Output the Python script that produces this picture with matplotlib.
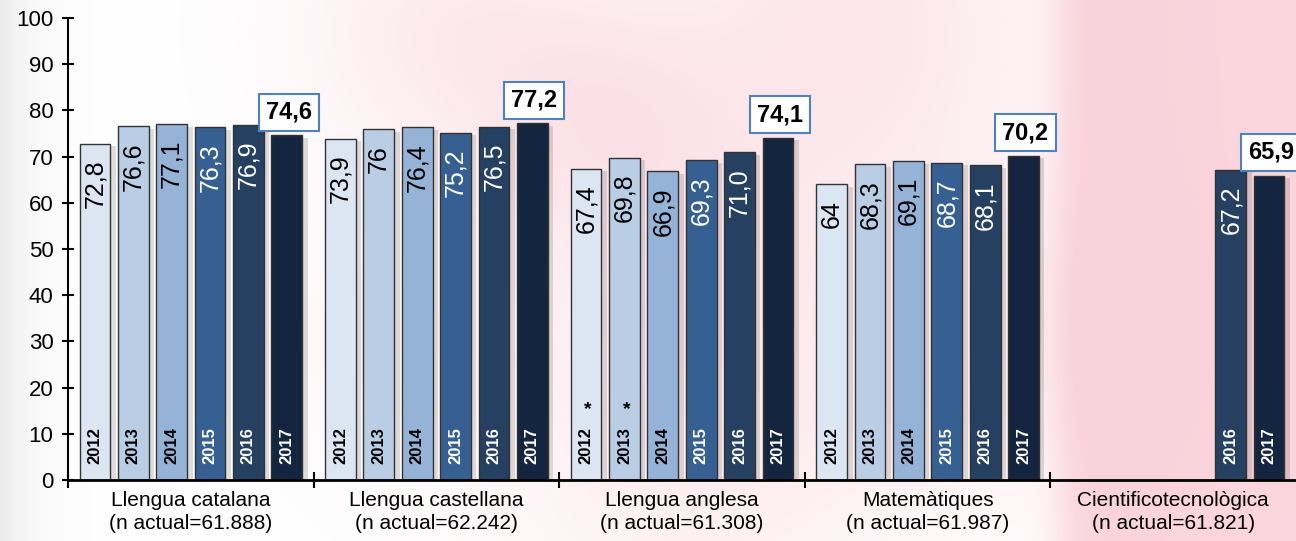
import matplotlib
matplotlib.use("Agg")
import matplotlib.pyplot as plt
import matplotlib.patheffects as pe
import numpy as np

plt.rcParams['font.family'] = ['Liberation Sans', 'DejaVu Sans']

# data
subjects = ["Llengua catalana\n(n actual=61.888)",
            "Llengua castellana\n(n actual=62.242)",
            "Llengua anglesa\n(n actual=61.308)",
            "Matemàtiques\n(n actual=61.987)",
            "Cientificotecnològica\n(n actual=61.821)"]
years = ["2012", "2013", "2014", "2015", "2016", "2017"]
catalana = [72.8, 76.6, 77.1, 76.3, 76.9, 74.6]
castellana = [73.9, 76.0, 76.4, 75.2, 76.5, 77.2]
anglesa = [67.4, 69.8, 66.9, 69.3, 71.0, 74.1]
matematiques = [64.0, 68.3, 69.1, 68.7, 68.1, 70.2]
cientific = [None, None, None, None, 67.2, 65.9]
inner_labels = [["72,8", "76,6", "77,1", "76,3", "76,9", None],
                ["73,9", "76", "76,4", "75,2", "76,5", None],
                ["67,4", "69,8", "66,9", "69,3", "71,0", None],
                ["64", "68,3", "69,1", "68,7", "68,1", None],
                [None, None, None, None, "67,2", None]]
top_labels = ["74,6", "77,2", "74,1", "70,2", "65,9"]
starred = {(2, 0), (2, 1)}  # anglesa 2012, 2013

series = [catalana, castellana, anglesa, matematiques, cientific]
colors = ["#dce6f2", "#b9cde5", "#95b3d7", "#376092", "#254061", "#14253f"]
txt_colors = ["black", "black", "black", "white", "white", "white"]

W, H = 1296, 541
fig = plt.figure(figsize=(W / 100, H / 100), dpi=100)

# soft pink blurred background
yy, xx = np.mgrid[0:H, 0:W]
inten = np.zeros((H, W))
for cx, cy, r, a in [(450, 30, 110, 0.45), (850, 20, 140, 0.55), (660, 230, 110, 0.3),
                     (700, 440, 150, 0.4), (980, 330, 110, 0.4), (380, 340, 80, 0.2),
                     (600, 110, 80, 0.3)]:
    inten += a * np.exp(-((xx - cx) ** 2 + (yy - cy) ** 2) / (2 * r ** 2))
inten += 0.95 / (1 + np.exp(-(xx - 1060) / 12))
inten = np.clip(inten, 0, 1)
pink = np.array([0.98, 0.83, 0.86])
bg = 1 - inten[..., None] * (1 - pink)
gray = 0.08 * np.exp(-xx / 30)[..., None]
bg = np.clip(bg - gray, 0, 1)
bax = fig.add_axes([0, 0, 1, 1], zorder=-1)
bax.imshow(bg, aspect='auto', extent=[0, 1, 0, 1])
bax.axis('off')

ax = fig.add_axes([68 / W, 61 / H, 1 - 68 / W, 462 / H])
ax.patch.set_alpha(0)

gw = 6.4
shadow = [pe.SimplePatchShadow(offset=(4, -2), shadow_rgbFace=(0.35, 0.35, 0.35), alpha=0.2),
          pe.Normal()]
for g, vals in enumerate(series):
    for j, v in enumerate(vals):
        if v is None:
            continue
        x = g * gw + 0.7 + j
        ax.bar(x, v, width=0.8, color=colors[j], edgecolor="#333333", linewidth=1,
               path_effects=shadow, zorder=2)
        ax.text(x, 3.5, years[j], rotation=90, ha='center', va='bottom',
                fontsize=12, fontweight='bold', color=txt_colors[j], zorder=3)
        if (g, j) in starred:
            ax.text(x + 0.05, 13.3, "*", ha='center', va='bottom', fontsize=14,
                    fontweight='bold', color='black', zorder=3)
        lab = inner_labels[g][j]
        if lab:
            ax.text(x, v - 3.5, lab, rotation=90, ha='center', va='top',
                    fontsize=18, color=txt_colors[j], zorder=3)
    last = vals[-1]
    x = g * gw + 0.7 + 5
    ax.text(x + 0.05, last + 2.5, top_labels[g], ha='center', va='bottom',
            fontsize=17, fontweight='bold', color='black', zorder=4,
            bbox=dict(boxstyle='square,pad=0.3', fc='white', ec='#4f81bd', lw=1.5))

ax.set_xlim(0, 5 * gw)
ax.set_ylim(0, 100)
ax.set_yticks(range(0, 101, 10))
ax.tick_params(axis='y', direction='inout', length=9, width=1.5, labelsize=16, pad=6)
ax.set_xticks([g * gw for g in range(5)])
ax.set_xticklabels([])
ax.set_xticks([g * gw + gw / 2 for g in range(5)], minor=True)
ax.set_xticklabels(subjects, minor=True, fontsize=15, linespacing=1.25)
ax.tick_params(axis='x', which='major', direction='inout', length=11, width=1.5)
ax.tick_params(axis='x', which='minor', length=0, pad=8)
for s in ['top', 'right']:
    ax.spines[s].set_visible(False)
ax.spines['left'].set_linewidth(1.5)
ax.spines['bottom'].set_linewidth(2)

fig.savefig("out.png", dpi=100)
